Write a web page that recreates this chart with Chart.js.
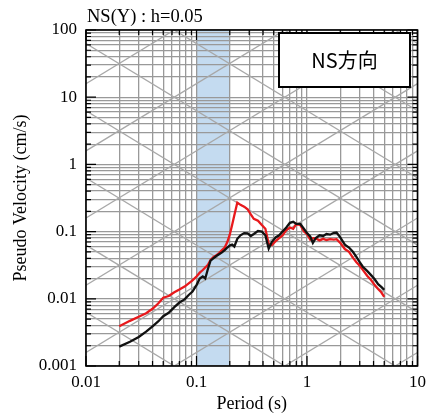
<!DOCTYPE html>
<html>
<head>
<meta charset="utf-8">
<script src="https://cdn.jsdelivr.net/npm/chart.js@4"></script>
<style>
html, body { margin: 0; padding: 0; background: #fff; }
</style>
</head>
<body>
<canvas id="canvas1" width="432" height="415"></canvas>
<script>
var periods = [0.02, 0.025, 0.03, 0.035, 0.04, 0.045, 0.05, 0.056, 0.063, 0.07, 0.078, 0.085, 0.092,
    0.1, 0.107, 0.114, 0.12, 0.127, 0.134, 0.142, 0.15, 0.16, 0.17, 0.18, 0.19, 0.2, 0.21, 0.22, 0.234,
    0.25, 0.27, 0.29, 0.31, 0.33, 0.36, 0.39, 0.42, 0.45, 0.48, 0.52, 0.56, 0.6, 0.65, 0.7, 0.75, 0.8,
    0.87, 0.94, 1.0, 1.07, 1.13, 1.2, 1.3, 1.4, 1.5, 1.62, 1.75, 1.85, 2.0, 2.2, 2.4, 2.6, 2.8, 3.0,
    3.2, 3.5, 3.8, 4.1, 4.4, 4.7, 5.0];

var svRed = [0.0039, 0.0047, 0.0054, 0.0061, 0.0071, 0.0085, 0.0104, 0.0110, 0.0125, 0.0137, 0.0152, 0.0170, 0.0188,
    0.0215, 0.0245, 0.0268, 0.0292, 0.0320, 0.0380, 0.0415, 0.0440, 0.0480, 0.0530, 0.0580, 0.0700, 0.090, 0.125, 0.175, 0.270,
    0.250, 0.235, 0.215, 0.180, 0.155, 0.145, 0.125, 0.110, 0.066, 0.063, 0.072, 0.080, 0.088, 0.105, 0.115, 0.110, 0.130,
    0.125, 0.100, 0.092, 0.076, 0.080, 0.079, 0.074, 0.078, 0.075, 0.077, 0.076, 0.077, 0.068, 0.055, 0.050, 0.041, 0.035, 0.031,
    0.027, 0.022, 0.019, 0.016, 0.014, 0.0125, 0.0107];

var svBlack = [0.00194, 0.0023, 0.0027, 0.00325, 0.0039, 0.0046, 0.0055, 0.0062, 0.0075, 0.0088, 0.0098, 0.0114, 0.0128,
    0.0160, 0.0200, 0.0215, 0.0200, 0.0280, 0.0370, 0.0400, 0.0430, 0.0460, 0.0490, 0.0530, 0.0580, 0.0620, 0.0640, 0.0600, 0.0780,
    0.0880, 0.0950, 0.0940, 0.0860, 0.0920, 0.1020, 0.1000, 0.0880, 0.0560, 0.0700, 0.0820, 0.0880, 0.1000, 0.1150, 0.1350, 0.1400, 0.1300,
    0.1300, 0.1100, 0.0950, 0.0850, 0.0680, 0.0800, 0.0880, 0.0860, 0.0920, 0.0900, 0.0960, 0.0970, 0.0820, 0.0640, 0.0580, 0.0500, 0.0420, 0.0350,
    0.0300, 0.0260, 0.0225, 0.0195, 0.0165, 0.0150, 0.0136];

var xTickLabels = ['0.01', '0.1', '1', '10'];
var yTickLabels = ['0.001', '0.01', '0.1', '1', '10', '100'];
var bandRange = [0.1, 0.2];
var titleText = 'NS(Y) : h=0.05';
var boxText = 'NS方向';

var canvas1;
var myChart1;

function isDecade(v) {
    var l = Math.log10(v);
    return Math.abs(l - Math.round(l)) < 1e-9;
}

// all 1..9 x 10^e values between the first and last label
function logTicks(labels) {
    var lo = Math.round(Math.log10(parseFloat(labels[0])));
    var hi = Math.round(Math.log10(parseFloat(labels[labels.length - 1])));
    var out = [];
    for (let e = lo; e < hi; e++) {
        for (let m = 1; m < 10; m++) out.push({value: m * Math.pow(10, e)});
    }
    out.push({value: Math.pow(10, hi)});
    return out;
}

function labelFor(labels, v) {
    if (!isDecade(v)) return '';
    for (let i = 0; i < labels.length; i++) {
        if (Math.abs(Math.log10(parseFloat(labels[i])) - Math.log10(v)) < 1e-9) return labels[i];
    }
    return '';
}

var tripartite = {
    id: 'tripartite',
    beforeDraw: function(chart) {
        var ctx = chart.ctx, a = chart.chartArea, xs = chart.scales.x;
        var x1 = xs.getPixelForValue(bandRange[0]);
        var x2 = xs.getPixelForValue(bandRange[1]);
        ctx.save();
        ctx.fillStyle = '#c4dbf0';
        ctx.fillRect(x1, a.top, x2 - x1, a.bottom - a.top);
        ctx.restore();
    },
    beforeDatasetsDraw: function(chart) {
        var ctx = chart.ctx, a = chart.chartArea, xs = chart.scales.x, ys = chart.scales.y;
        var t0 = xs.min, t1 = xs.max;
        ctx.save();
        ctx.beginPath();
        ctx.rect(a.left, a.top, a.right - a.left, a.bottom - a.top);
        ctx.clip();
        ctx.strokeStyle = '#a8a8a8';
        ctx.lineWidth = 1.3;
        // constant displacement lines
        for (let k = -8; k <= 4; k++) {
            var sd = Math.pow(10, k);
            ctx.beginPath();
            ctx.moveTo(xs.getPixelForValue(t0), ys.getPixelForValue(2 * Math.PI * sd / t0));
            ctx.lineTo(xs.getPixelForValue(t1), ys.getPixelForValue(2 * Math.PI * sd / t1));
            ctx.stroke();
        }
        // constant acceleration lines
        for (let k = -5; k <= 6; k++) {
            var sa = Math.pow(10, k);
            ctx.beginPath();
            ctx.moveTo(xs.getPixelForValue(t0), ys.getPixelForValue(sa * t0 / (2 * Math.PI)));
            ctx.lineTo(xs.getPixelForValue(t1), ys.getPixelForValue(sa * t1 / (2 * Math.PI)));
            ctx.stroke();
        }
        ctx.restore();
    },
    afterDraw: function(chart) {
        var ctx = chart.ctx, a = chart.chartArea, xs = chart.scales.x, ys = chart.scales.y;
        ctx.save();
        // inward ticks
        ctx.strokeStyle = '#000';
        ctx.lineWidth = 1.2;
        ctx.beginPath();
        logTicks(xTickLabels).forEach(function(t) {
            var px = xs.getPixelForValue(t.value);
            var len = isDecade(t.value) ? 10 : 5;
            ctx.moveTo(px, a.bottom); ctx.lineTo(px, a.bottom - len);
            ctx.moveTo(px, a.top); ctx.lineTo(px, a.top + len);
        });
        logTicks(yTickLabels).forEach(function(t) {
            var py = ys.getPixelForValue(t.value);
            var len = isDecade(t.value) ? 10 : 5;
            ctx.moveTo(a.left, py); ctx.lineTo(a.left + len, py);
            ctx.moveTo(a.right, py); ctx.lineTo(a.right - len, py);
        });
        ctx.stroke();
        // frame
        ctx.lineWidth = 1.6;
        ctx.strokeRect(a.left, a.top, a.right - a.left, a.bottom - a.top);
        // title
        ctx.fillStyle = '#000';
        ctx.font = '18.5px "Liberation Serif"';
        ctx.textAlign = 'left';
        ctx.textBaseline = 'alphabetic';
        ctx.fillText(titleText, a.left + 1, 22);
        // label box
        ctx.fillStyle = '#fff';
        ctx.fillRect(279, 33, 131, 54);
        ctx.lineWidth = 2;
        ctx.strokeStyle = '#000';
        ctx.strokeRect(279, 33, 131, 54);
        ctx.fillStyle = '#000';
        ctx.font = '20px "Noto Sans CJK JP"';
        ctx.textAlign = 'center';
        ctx.textBaseline = 'middle';
        ctx.fillText(boxText, 344.5, 60);
        ctx.restore();
    }
};

function start() {
    canvas1 = document.getElementById('canvas1');
    setchart();
}

function setchart() {
    var gridColor = '#999999';
    var tickFont = {family: 'Liberation Serif', size: 17};

    myChart1 = new Chart(canvas1, {
        type: 'line',
        data: {
            datasets: [{
                label: 'black',
                data: periods.map(function(t, i) { return {x: t, y: svBlack[i]}; }),
                borderColor: '#111111',
                borderWidth: 2.3,
                pointRadius: 0,
                fill: false
            }, {
                label: 'red',
                data: periods.map(function(t, i) { return {x: t, y: svRed[i]}; }),
                borderColor: '#e8191c',
                borderWidth: 2.3,
                pointRadius: 0,
                fill: false
            }]
        },
        options: {
            responsive: false,
            animation: false,
            layout: {padding: {left: 10, right: 10, top: 30, bottom: 0}},
            scales: {
                x: {
                    type: 'logarithmic',
                    min: 0.01,
                    max: 10,
                    afterBuildTicks: function(scale) { scale.ticks = logTicks(xTickLabels); },
                    afterFit: function(scale) { scale.height = 49; },
                    grid: {color: gridColor, lineWidth: 1.3, drawTicks: false},
                    border: {display: false},
                    ticks: {
                        autoSkip: false,
                        maxRotation: 0,
                        padding: 6,
                        color: '#000',
                        font: tickFont,
                        callback: function(v) { return labelFor(xTickLabels, v); }
                    },
                    title: {
                        display: true,
                        text: 'Period (s)',
                        color: '#000',
                        font: {family: 'Liberation Serif', size: 18},
                        padding: {top: 0, bottom: 0}
                    }
                },
                y: {
                    type: 'logarithmic',
                    min: 0.001,
                    max: 100,
                    afterBuildTicks: function(scale) { scale.ticks = logTicks(yTickLabels); },
                    afterFit: function(scale) { scale.width = 76; },
                    grid: {color: gridColor, lineWidth: 1.3, drawTicks: false},
                    border: {display: false},
                    ticks: {
                        autoSkip: false,
                        padding: 9,
                        color: '#000',
                        font: tickFont,
                        callback: function(v) { return labelFor(yTickLabels, v); }
                    },
                    title: {
                        display: true,
                        text: 'Pseudo Velocity (cm/s)',
                        color: '#000',
                        font: {family: 'Liberation Serif', size: 18},
                        padding: {top: 0, bottom: 0}
                    }
                }
            },
            plugins: {
                legend: {display: false},
                tooltip: {enabled: false}
            }
        },
        plugins: [tripartite]
    });
}

start();
</script>
</body>
</html>
